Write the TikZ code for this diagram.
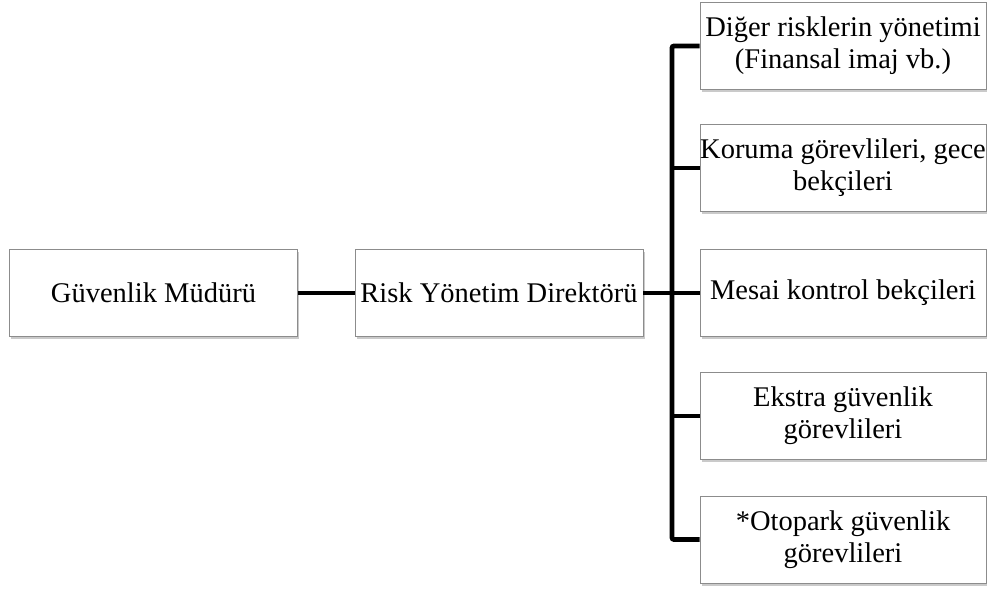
\documentclass[tikz,border=0pt]{standalone}
\usepackage{fontspec}
\setmainfont{Liberation Serif}
\usetikzlibrary{shadows}
\begin{document}
\begin{tikzpicture}[x=1pt,y=1pt,
  orgbox/.style={draw=black!45, line width=0.9pt, fill=white,
    minimum width=288pt, minimum height=87pt, inner sep=0pt,
    align=center, font=\fontsize{28.5}{32}\selectfont,
    drop shadow={shadow xshift=1.5pt, shadow yshift=-2.5pt, opacity=0.35, fill=black!60}},
  conn/.style={line width=4.8pt, draw=black}]
\useasboundingbox (0,0) rectangle (987,590);
% main chain
\node[orgbox] (gm) at (153.5,297) {Güvenlik Müdürü};
\node[orgbox] (rd) at (499,297) {Risk Yönetim Direktörü};
% subordinate units
\node[orgbox, minimum width=286pt] (r1) at (843,544) {Diğer risklerin yönetimi\\(Finansal imaj vb.)};
\node[orgbox, minimum width=286pt] (r2) at (843,422) {Koruma görevlileri, gece\\bekçileri};
\node[orgbox, minimum width=286pt] (r3) at (843,297) {Mesai kontrol bekçileri};
\node[orgbox, minimum width=286pt] (r4) at (843,174) {Ekstra güvenlik\\görevlileri};
\node[orgbox, minimum width=286pt] (r5) at (843,50.5) {*Otopark güvenlik\\görevlileri};
% connectors
\coordinate (bx) at (672,297);
\draw[conn] (gm.east) -- (rd.west);
\draw[conn] (rd.east) -- (r3.west);
\draw[conn, rounded corners=2pt] (r1.west) -| (bx) |- (r5.west);
\draw[conn] (bx |- r2.west) -- (r2.west);
\draw[conn] (bx |- r4.west) -- (r4.west);
\end{tikzpicture}
\end{document}
